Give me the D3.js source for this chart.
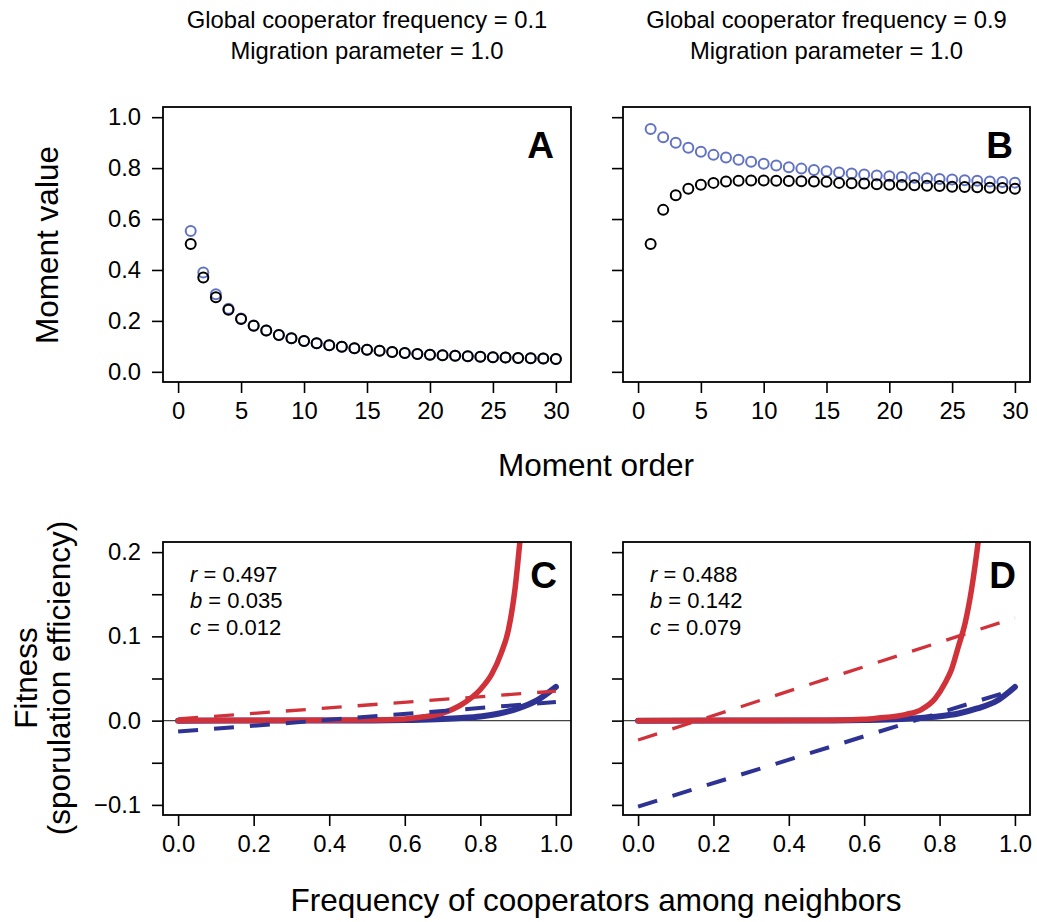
<!DOCTYPE html>
<html>
<head>
<meta charset="utf-8">
<script src="https://cdn.jsdelivr.net/npm/d3@7"></script>
<style>
	body { margin: 0; background: #fff; }
	text { font-family: "Liberation Sans", Arial, Helvetica, sans-serif; fill: #000; }
</style>
</head>
<body>
<div id="fig-box"></div>
<script>
// Moment order (x of the top panels)
const momentOrder = [1,2,3,4,5,6,7,8,9,10,11,12,13,14,15,16,17,18,19,20,21,22,23,24,25,26,27,28,29,30];
// Panel A moments
const momentsA_black = [0.502,0.370,0.293,0.244,0.207,0.181,0.162,0.145,0.132,0.121,0.112,0.104,0.098,0.093,0.087,0.083,0.078,0.074,0.070,0.067,0.065,0.063,0.061,0.059,0.057,0.056,0.054,0.053,0.052,0.050];
const momentsA_blue  = [0.553,0.390,0.305,0.248,0.209,0.182,0.162,0.145,0.132,0.121,0.112,0.104,0.098,0.093,0.087,0.083,0.078,0.074,0.070,0.067,0.065,0.063,0.061,0.059,0.057,0.056,0.054,0.053,0.052,0.050];
// Panel B moments
const momentsB_black = [0.502,0.636,0.693,0.719,0.735,0.742,0.747,0.750,0.751,0.751,0.750,0.749,0.748,0.747,0.746,0.742,0.741,0.740,0.737,0.735,0.734,0.733,0.731,0.730,0.727,0.726,0.725,0.723,0.722,0.719];
const momentsB_blue  = [0.954,0.921,0.900,0.880,0.864,0.852,0.842,0.833,0.825,0.817,0.810,0.803,0.798,0.793,0.788,0.783,0.779,0.775,0.771,0.768,0.765,0.762,0.760,0.757,0.755,0.752,0.750,0.747,0.745,0.743];

// Fitness curves, panel C
const redC_x  = [0, 0.5, 0.6, 0.65, 0.7, 0.75, 0.8, 0.83, 0.856, 0.874, 0.892, 0.905, 0.92];
const redC_y  = [0, 0.0006, 0.002, 0.0045, 0.009, 0.019, 0.037, 0.055, 0.081, 0.107, 0.157, 0.214, 0.29];
const blueC_x = [0, 0.5, 0.6, 0.7, 0.75, 0.8, 0.85, 0.9, 0.95, 1.0];
const blueC_y = [0, 0.0002, 0.0007, 0.0018, 0.0031, 0.005, 0.0085, 0.0145, 0.024, 0.040];
const redLineC  = [[0, 0.002], [1, 0.035]];
const blueLineC = [[0, -0.013], [1, 0.022]];
// Fitness curves, panel D
const redD_x  = [0, 0.5, 0.6, 0.638, 0.709, 0.753, 0.788, 0.815, 0.832, 0.85, 0.868, 0.885, 0.903, 0.92];
const redD_y  = [0, 0.0004, 0.0015, 0.003, 0.0072, 0.0135, 0.026, 0.045, 0.061, 0.088, 0.116, 0.156, 0.214, 0.28];
const blueD_x = [0, 0.5, 0.6, 0.7, 0.75, 0.8, 0.85, 0.9, 0.95, 1.0];
const blueD_y = [0, 0.0002, 0.0007, 0.0019, 0.0032, 0.0052, 0.0085, 0.0145, 0.023, 0.040];
const redLineD  = [[0, -0.023], [1, 0.122]];
const blueLineD = [[0, -0.102], [1, 0.037]];

// Titles and annotations
const topTitles = [["Global cooperator frequency = 0.1", "Migration parameter = 1.0"],
                   ["Global cooperator frequency = 0.9", "Migration parameter = 1.0"]];
const paramsC = [["r", "0.497"], ["b", "0.035"], ["c", "0.012"]];
const paramsD = [["r", "0.488"], ["b", "0.142"], ["c", "0.079"]];
const panelLetters = ["A", "B", "C", "D"];
const momentTicksX = [0, 5, 10, 15, 20, 25, 30];
const momentTicksY = [0, 0.2, 0.4, 0.6, 0.8, 1.0];
const freqTicks = [0, 0.2, 0.4, 0.6, 0.8, 1.0];
const fitTicks = [-0.1, -0.05, 0, 0.05, 0.1, 0.15, 0.2];
const fitTickLabels = [-0.1, 0, 0.1, 0.2];

const figure =
{
	w: 1037,
	h: 922,
	cols: [[163, 571], [623, 1030]],
	rows: [[107, 382], [542, 815]],
	red: "#d1323a",
	navy: "#2e3393",
	ptBlue: "#6273c4",
	draw: function ()
	{
		const svg = d3.select("#fig-box")
			.append("svg")
			.attr("width", this.w)
			.attr("height", this.h);
		const defs = svg.append("defs");

		// Top row: moments
		for (let c = 0; c < 2; c++)
		{
			const xs = d3.scaleLinear().domain([-1.2, 31.2]).range(this.cols[c]);
			const ys = d3.scaleLinear().domain([-0.04, 1.04]).range([this.rows[0][1], this.rows[0][0]]);
			const g = svg.append("g");
			this.axes(g, xs, ys, momentTicksX, momentTicksY, c === 0 ? momentTicksY : [], d3.format("d"), d3.format(".1f"), 0);
			const blue = c === 0 ? momentsA_blue : momentsB_blue;
			const black = c === 0 ? momentsA_black : momentsB_black;
			g.selectAll(".pb").data(momentOrder).enter()
				.append("circle")
				.attr("cx", d => xs(d))
				.attr("cy", (d, i) => ys(blue[i]))
				.attr("r", 5)
				.style("fill", "none")
				.style("stroke", this.ptBlue)
				.style("stroke-width", 2);
			g.selectAll(".pk").data(momentOrder).enter()
				.append("circle")
				.attr("cx", d => xs(d))
				.attr("cy", (d, i) => ys(black[i]))
				.attr("r", 5)
				.style("fill", "none")
				.style("stroke", "#000")
				.style("stroke-width", 2);
			this.letter(g, panelLetters[c], this.cols[c][1] - 17, 158);
			// Titles over the panels
			const cx = (this.cols[c][0] + this.cols[c][1]) / 2;
			topTitles[c].forEach((t, i) =>
			{
				svg.append("text")
					.attr("x", cx)
					.attr("y", 28 + i * 31)
					.attr("text-anchor", "middle")
					.style("font-size", "23.8px")
					.text(t);
			});
		}

		// Bottom row: fitness
		const curves = [
			{rx: redC_x, ry: redC_y, bx: blueC_x, by: blueC_y, rl: redLineC, bl: blueLineC, p: paramsC},
			{rx: redD_x, ry: redD_y, bx: blueD_x, by: blueD_y, rl: redLineD, bl: blueLineD, p: paramsD}
		];
		for (let c = 0; c < 2; c++)
		{
			const xs = d3.scaleLinear().domain([-0.04, 1.04]).range(this.cols[c]);
			const ys = d3.scaleLinear().domain([-0.112, 0.212]).range([this.rows[1][1], this.rows[1][0]]);
			const g = svg.append("g");
			const cv = curves[c];
			defs.append("clipPath").attr("id", "clip" + c)
				.append("rect")
				.attr("x", this.cols[c][0])
				.attr("y", this.rows[1][0])
				.attr("width", this.cols[c][1] - this.cols[c][0])
				.attr("height", this.rows[1][1] - this.rows[1][0]);
			const inner = g.append("g").attr("clip-path", "url(#clip" + c + ")");
			// zero line
			inner.append("line")
				.attr("x1", this.cols[c][0]).attr("x2", this.cols[c][1])
				.attr("y1", ys(0)).attr("y2", ys(0))
				.style("stroke", "#444")
				.style("stroke-width", 1.4);
			const line = d3.line().x(d => xs(d[0])).y(d => ys(d[1])).curve(d3.curveMonotoneX);
			inner.append("path")
				.attr("d", line(cv.bx.map((x, i) => [x, cv.by[i]])))
				.style("fill", "none").style("stroke", this.navy)
				.style("stroke-width", 6).style("stroke-linecap", "round");
			inner.append("path")
				.attr("d", line(cv.rx.map((x, i) => [x, cv.ry[i]])))
				.style("fill", "none").style("stroke", this.red)
				.style("stroke-width", 5.5).style("stroke-linecap", "round");
			inner.append("path")
				.attr("d", d3.line().x(d => xs(d[0])).y(d => ys(d[1]))(cv.bl))
				.style("fill", "none").style("stroke", this.navy)
				.style("stroke-width", 4).style("stroke-dasharray", "20,16");
			inner.append("path")
				.attr("d", d3.line().x(d => xs(d[0])).y(d => ys(d[1]))(cv.rl))
				.style("fill", "none").style("stroke", this.red)
				.style("stroke-width", 3.3).style("stroke-dasharray", "20,16");
			this.axes(g, xs, ys, freqTicks, fitTicks, c === 0 ? fitTickLabels : [], d3.format(".1f"), d3.format(".1f"), 1);
			this.letter(g, panelLetters[c + 2], this.cols[c][1] - 14, 588);
			// r, b, c annotation
			const tx = this.cols[c][0] + 27;
			cv.p.forEach((p, i) =>
			{
				const t = g.append("text")
					.attr("x", tx)
					.attr("y", 582 + i * 26.3)
					.style("font-size", "22px");
				t.append("tspan").style("font-style", "italic").text(p[0]);
				t.append("tspan").text(" = " + p[1]);
			});
		}

		// Axis titles
		svg.append("text")
			.attr("transform", "translate(58,245) rotate(-90)")
			.attr("text-anchor", "middle")
			.style("font-size", "31.5px")
			.text("Moment value");
		svg.append("text")
			.attr("x", 596).attr("y", 476)
			.attr("text-anchor", "middle")
			.style("font-size", "31.5px")
			.text("Moment order");
		svg.append("text")
			.attr("transform", "translate(37,678) rotate(-90)")
			.attr("text-anchor", "middle")
			.style("font-size", "31.5px")
			.text("Fitness");
		svg.append("text")
			.attr("transform", "translate(70,678) rotate(-90)")
			.attr("text-anchor", "middle")
			.style("font-size", "31.5px")
			.text("(sporulation efficiency)");
		svg.append("text")
			.attr("x", 596).attr("y", 911)
			.attr("text-anchor", "middle")
			.style("font-size", "31.5px")
			.text("Frequency of cooperators among neighbors");
	},
	axes: function (g, xs, ys, xt, yt, ylab, fx, fy, row)
	{
		const r = this.rows[row];
		const xAxis = d3.axisBottom(xs).tickValues(xt).tickSize(11).tickPadding(9).tickFormat(fx);
		g.append("g")
			.attr("transform", "translate(0," + r[1] + ")")
			.call(xAxis)
			.call(a => a.select(".domain").remove());
		const yAxis = d3.axisLeft(ys).tickValues(yt).tickSize(11).tickPadding(11)
			.tickFormat(d => ylab.some(v => Math.abs(v - d) < 1e-9) ? fy(d) : "");
		g.append("g")
			.attr("transform", "translate(" + xs.range()[0] + ",0)")
			.call(yAxis)
			.call(a => a.select(".domain").remove());
		g.selectAll(".tick line").style("stroke", "#000").style("stroke-width", 1.6);
		g.selectAll(".tick text").style("font-size", "23.8px").style("fill", "#000")
			.style("font-family", "'Liberation Sans', Arial, sans-serif");
		// plot box
		g.append("rect")
			.attr("x", xs.range()[0])
			.attr("y", r[0])
			.attr("width", xs.range()[1] - xs.range()[0])
			.attr("height", r[1] - r[0])
			.style("fill", "none")
			.style("stroke", "#000")
			.style("stroke-width", 1.8);
	},
	letter: function (g, txt, x, y)
	{
		g.append("text")
			.attr("x", x)
			.attr("y", y)
			.attr("text-anchor", "end")
			.style("font-size", "37px")
			.style("font-weight", "bold")
			.text(txt);
	}
};

document.addEventListener("DOMContentLoaded", function (event)
{
	figure.draw();
});
</script>
</body>
</html>
